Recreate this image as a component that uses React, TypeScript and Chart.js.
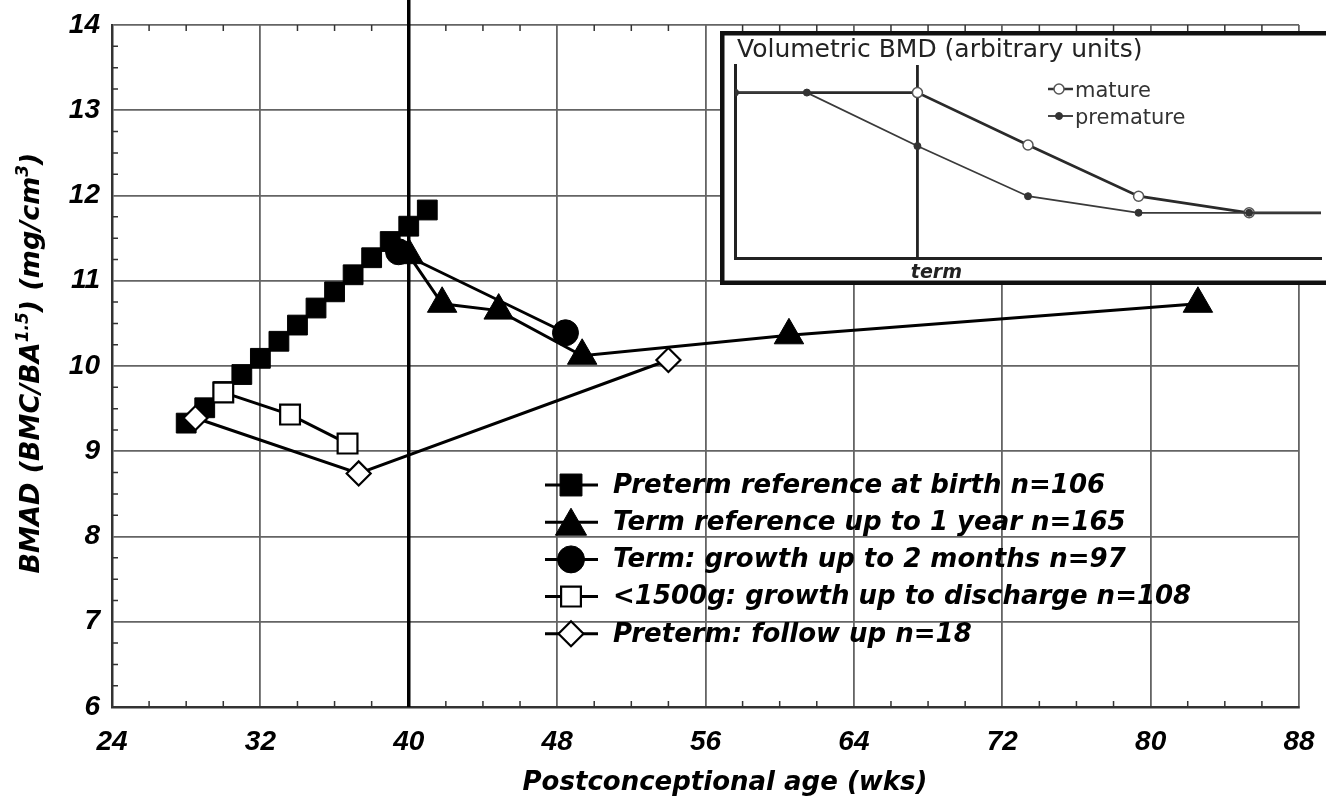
import React, { useEffect, useRef } from 'react';
import { Chart, registerables } from 'chart.js';

Chart.register(...registerables);

// ---------------- Data (main chart) ----------------
const xRange = [24, 88];
const xStep = 8;
const yRange = [6, 14];
const yStep = 1;

const seriesLabels = [
  'Preterm reference at birth n=106',
  'Term reference up to 1 year n=165',
  'Term: growth up to 2 months n=97',
  '<1500g: growth up to discharge n=108',
  'Preterm: follow up n=18',
];

const pretermRefWeeks = [28, 29, 30, 31, 32, 33, 34, 35, 36, 37, 38, 39, 40, 41];
const pretermRefBmad = [9.33, 9.51, 9.7, 9.9, 10.09, 10.29, 10.48, 10.68, 10.87, 11.07, 11.27, 11.46, 11.64, 11.83];

const termRefWeeks = [40, 41.8, 44.85, 49.35, 60.5, 82.55];
const termRefBmad = [11.3, 10.73, 10.65, 10.12, 10.36, 10.73];

const termGrowthWeeks = [39.45, 48.45];
const termGrowthBmad = [11.34, 10.39];

const vlbwWeeks = [30.0, 33.6, 36.7];
const vlbwBmad = [9.69, 9.43, 9.09];

const followUpWeeks = [28.5, 37.3, 54.0];
const followUpBmad = [9.39, 8.74, 10.07];

const termWeek = 40;

const xTitle = 'Postconceptional age (wks)';
const yTitleParts = [
  { t: 'BMAD (BMC/BA', sup: false },
  { t: '1.5', sup: true },
  { t: ') (mg/cm', sup: false },
  { t: '3', sup: true },
  { t: ')', sup: false },
];

// ---------------- Data (inset) ----------------
const insetTitle = 'Volumetric BMD (arbitrary units)';
const insetLabels = ['mature', 'premature'];
const insetMatureX = [0, 1.65, 2.65, 3.65, 4.65, 5.3];
const insetMatureY = [3.0, 3.0, 2.05, 1.12, 0.82, 0.82];
const insetPrematureX = [0, 0.65, 1.65, 2.65, 3.65, 4.65, 5.3];
const insetPrematureY = [3.0, 3.0, 2.03, 1.12, 0.82, 0.82, 0.82];
const insetTermX = 1.65;
const insetTermLabel = 'term';
const insetXRange = [0, 5.3];
const insetYRange = [0, 3.5];

// ---------------- Styles ----------------
const seriesStyles = [
  { pointStyle: 'rect', radius: 14, fill: '#000', lw: 1, legendRadius: 15.5 },
  { pointStyle: 'triangle', radius: 17, fill: '#000', lw: 1, legendRadius: 18 },
  { pointStyle: 'circle', radius: 13, fill: '#000', lw: 1, legendRadius: 13.5 },
  { pointStyle: 'rect', radius: 14, fill: '#fff', lw: 2.2, legendRadius: 14 },
  { pointStyle: 'rectRot', radius: 12, fill: '#fff', lw: 2.2, legendRadius: 12.5 },
];

const toXY = (xs: number[], ys: number[]) => xs.map((x, i) => ({ x, y: ys[i] }));

function drawMarker(
  ctx: CanvasRenderingContext2D,
  style: string,
  x: number,
  y: number,
  r: number,
  fill: string,
  stroke: string,
  lw: number
) {
  ctx.save();
  ctx.beginPath();
  if (style === 'rect') {
    const s = r * Math.SQRT1_2;
    ctx.rect(x - s, y - s, 2 * s, 2 * s);
  } else if (style === 'circle') {
    ctx.arc(x, y, r, 0, Math.PI * 2);
  } else if (style === 'triangle') {
    for (let k = 0; k < 3; k++) {
      const a = (k * 2 * Math.PI) / 3;
      const px = x + Math.sin(a) * r;
      const py = y - Math.cos(a) * r;
      if (k === 0) ctx.moveTo(px, py);
      else ctx.lineTo(px, py);
    }
  } else if (style === 'rectRot') {
    ctx.moveTo(x, y - r);
    ctx.lineTo(x + r, y);
    ctx.lineTo(x, y + r);
    ctx.lineTo(x - r, y);
  }
  ctx.closePath();
  ctx.fillStyle = fill;
  ctx.fill();
  ctx.lineWidth = lw;
  ctx.strokeStyle = stroke;
  ctx.stroke();
  ctx.restore();
}

const TITLE_FONT = '"DejaVu Sans", "Liberation Sans", sans-serif';

const mainOverlay = {
  id: 'mainOverlay',
  beforeDatasetsDraw(chart: any) {
    const ctx: CanvasRenderingContext2D = chart.ctx;
    const { left, top, bottom } = chart.chartArea;
    const xs = chart.scales.x;
    const ys = chart.scales.y;
    ctx.save();
    ctx.strokeStyle = '#333';
    ctx.lineWidth = 1.5;
    ctx.beginPath();
    for (let v = xRange[0]; v <= xRange[1]; v += 2) {
      if ((v - xRange[0]) % xStep === 0) continue;
      const px = xs.getPixelForValue(v);
      ctx.moveTo(px, bottom);
      ctx.lineTo(px, bottom - 6);
      ctx.moveTo(px, top);
      ctx.lineTo(px, top + 6);
    }
    for (let v = yRange[0]; v <= yRange[1]; v += 0.25) {
      if (Math.abs(v - Math.round(v)) < 1e-6) continue;
      const py = ys.getPixelForValue(v);
      ctx.moveTo(left, py);
      ctx.lineTo(left + 6, py);
    }
    ctx.stroke();
    ctx.restore();
  },
  afterDraw(chart: any) {
    const ctx: CanvasRenderingContext2D = chart.ctx;
    const { top, bottom } = chart.chartArea;
    ctx.save();
    ctx.fillStyle = '#000';

    // Y title with superscripts
    const bigFont = `italic bold 26px ${TITLE_FONT}`;
    const yFont = `italic bold 27px ${TITLE_FONT}`;
    const supFont = `italic bold 17px ${TITLE_FONT}`;
    let total = 0;
    for (const p of yTitleParts) {
      ctx.font = p.sup ? supFont : yFont;
      total += ctx.measureText(p.t).width;
    }
    ctx.translate(30, (top + bottom) / 2 - 3);
    ctx.rotate(-Math.PI / 2);
    ctx.textBaseline = 'alphabetic';
    ctx.textAlign = 'left';
    let cx = -total / 2;
    for (const p of yTitleParts) {
      ctx.font = p.sup ? supFont : yFont;
      ctx.fillText(p.t, cx, p.sup ? 9 - 11 : 9);
      cx += ctx.measureText(p.t).width;
    }
    ctx.setTransform(1, 0, 0, 1, 0, 0);

    // X title
    ctx.font = bigFont;
    ctx.textAlign = 'center';
    ctx.textBaseline = 'alphabetic';
    ctx.fillText(xTitle, 725, 790);

    // Legend
    const rowY0 = 485;
    const rowGap = 37.2;
    seriesLabels.forEach((label, i) => {
      const y = rowY0 + i * rowGap;
      const st = seriesStyles[i];
      ctx.beginPath();
      ctx.strokeStyle = '#000';
      ctx.lineWidth = 3;
      ctx.moveTo(545, y);
      ctx.lineTo(598, y);
      ctx.stroke();
      const my = st.pointStyle === 'triangle' ? y + 4 : y;
      drawMarker(ctx, st.pointStyle, 571, my, st.legendRadius, st.fill, '#000', st.lw);
      ctx.fillStyle = '#000';
      ctx.font = bigFont;
      ctx.textAlign = 'left';
      ctx.textBaseline = 'middle';
      ctx.fillText(label, 613, y + 1);
    });
    ctx.restore();
  },
};

const insetOverlay = {
  id: 'insetOverlay',
  beforeDraw(chart: any) {
    const ctx: CanvasRenderingContext2D = chart.ctx;
    ctx.save();
    ctx.fillStyle = '#fff';
    ctx.fillRect(0, 0, chart.width, chart.height);
    ctx.restore();
  },
  afterDraw(chart: any) {
    const ctx: CanvasRenderingContext2D = chart.ctx;
    const xs = chart.scales.x;
    ctx.save();
    // frame
    ctx.strokeStyle = '#111';
    ctx.lineWidth = 4.5;
    ctx.strokeRect(2.25, 2.25, chart.width + 20, chart.height - 4.5);
    // title
    ctx.fillStyle = '#222';
    ctx.font = `25px ${TITLE_FONT}`;
    ctx.textAlign = 'left';
    ctx.textBaseline = 'alphabetic';
    ctx.fillText(insetTitle, 17, 26);
    // term label
    ctx.font = `italic bold 19px ${TITLE_FONT}`;
    ctx.textAlign = 'center';
    ctx.fillText(insetTermLabel, xs.getPixelForValue(insetTermX) + 19, 247);
    // legend
    insetLabels.forEach((label, i) => {
      const y = 58 + i * 27;
      ctx.beginPath();
      ctx.strokeStyle = '#333';
      ctx.lineWidth = i === 0 ? 2.5 : 1.8;
      ctx.moveTo(328, y);
      ctx.lineTo(353, y);
      ctx.stroke();
      if (i === 0) drawMarker(ctx, 'circle', 339, y, 5, '#fff', '#555', 1.5);
      else drawMarker(ctx, 'circle', 339, y, 3.5, '#333', '#333', 1);
      ctx.fillStyle = '#333';
      ctx.font = `21px ${TITLE_FONT}`;
      ctx.textAlign = 'left';
      ctx.textBaseline = 'alphabetic';
      ctx.fillText(label, 355, y + 8);
    });
    ctx.restore();
  },
};

export default function App() {
  const mainRef = useRef<HTMLCanvasElement>(null);
  const insetRef = useRef<HTMLCanvasElement>(null);

  useEffect(() => {
    const tickFont = { family: '"Liberation Sans", Arial, sans-serif', size: 28, weight: 'bold' as const, style: 'italic' as const };
    const seriesData = [
      toXY(pretermRefWeeks, pretermRefBmad),
      toXY(termRefWeeks, termRefBmad),
      toXY(termGrowthWeeks, termGrowthBmad),
      toXY(vlbwWeeks, vlbwBmad),
      toXY(followUpWeeks, followUpBmad),
    ];
    const drawOrder = [4, 3, 2, 1, 0];
    const datasets: any[] = seriesData.map((data, i) => ({
      label: seriesLabels[i],
      data,
      showLine: true,
      borderColor: '#000',
      borderWidth: 3,
      pointStyle: seriesStyles[i].pointStyle,
      pointRadius: seriesStyles[i].radius,
      pointBackgroundColor: seriesStyles[i].fill,
      pointBorderColor: '#000',
      pointBorderWidth: seriesStyles[i].lw,
      order: drawOrder[i],
    }));
    datasets.push({
      label: 'term',
      data: toXY([termWeek, termWeek], [yRange[0], yRange[1] + 0.5]),
      showLine: true,
      borderColor: '#000',
      borderWidth: 3.5,
      pointRadius: 0,
      clip: false,
      order: 10,
    });

    const main = new Chart(mainRef.current!, {
      type: 'scatter',
      data: { datasets },
      options: {
        animation: false,
        responsive: false,
        maintainAspectRatio: false,
        layout: { padding: { left: 0, right: 27, top: 25, bottom: 0 } },
        plugins: { legend: { display: false }, tooltip: { enabled: false } },
        scales: {
          x: {
            type: 'linear',
            min: xRange[0],
            max: xRange[1],
            ticks: { stepSize: xStep, font: tickFont, color: '#000', padding: 18 },
            grid: { color: '#646464', lineWidth: 1.8, drawTicks: false },
            border: { color: '#333', width: 2.5 },
            afterFit: (s: any) => {
              s.height = 98;
              s.paddingLeft = 0;
              s.paddingRight = 0;
            },
          },
          y: {
            type: 'linear',
            min: yRange[0],
            max: yRange[1],
            ticks: { stepSize: yStep, font: tickFont, color: '#000', padding: 12 },
            grid: { color: '#646464', lineWidth: 1.8, drawTicks: false },
            border: { color: '#333', width: 2.5 },
            afterFit: (s: any) => {
              s.width = 112;
              s.paddingTop = 0;
              s.paddingBottom = 0;
            },
          },
        },
      },
      plugins: [mainOverlay],
    } as any);

    const inset = new Chart(insetRef.current!, {
      type: 'scatter',
      data: {
        datasets: [
          {
            label: insetLabels[0],
            data: toXY(insetMatureX, insetMatureY),
            showLine: true,
            borderColor: '#2a2a2a',
            borderWidth: 2.8,
            pointStyle: 'circle',
            pointRadius: insetMatureX.map((_, i) => (i === 0 || i === insetMatureX.length - 1 ? 0 : 5)),
            pointBackgroundColor: '#fff',
            pointBorderColor: '#555',
            pointBorderWidth: 1.5,
            order: 1,
          },
          {
            label: insetLabels[1],
            data: toXY(insetPrematureX, insetPrematureY),
            showLine: true,
            borderColor: '#3a3a3a',
            borderWidth: 1.8,
            pointStyle: 'circle',
            pointRadius: insetPrematureX.map((_, i) => (i === insetPrematureX.length - 1 ? 0 : 3.5)),
            pointBackgroundColor: '#333',
            pointBorderColor: '#333',
            pointBorderWidth: 1,
            order: 0,
          },
          {
            label: insetTermLabel,
            data: toXY([insetTermX, insetTermX], [insetYRange[0], insetYRange[1]]),
            showLine: true,
            borderColor: '#222',
            borderWidth: 2.8,
            pointRadius: 0,
            order: 2,
          },
        ],
      },
      options: {
        animation: false,
        responsive: false,
        maintainAspectRatio: false,
        layout: { padding: { left: 15, right: 0, top: 34, bottom: 27 } },
        plugins: { legend: { display: false }, tooltip: { enabled: false } },
        scales: {
          x: {
            type: 'linear',
            min: insetXRange[0],
            max: insetXRange[1],
            ticks: { display: false },
            grid: { display: false, drawTicks: false },
            border: { display: true, color: '#222', width: 3 },
            afterFit: (s: any) => {
              s.height = 0;
            },
          },
          y: {
            type: 'linear',
            min: insetYRange[0],
            max: insetYRange[1],
            ticks: { display: false },
            grid: { display: false, drawTicks: false },
            border: { display: true, color: '#222', width: 3 },
            afterFit: (s: any) => {
              s.width = 0;
            },
          },
        },
      },
      plugins: [insetOverlay],
    } as any);

    return () => {
      main.destroy();
      inset.destroy();
    };
  }, []);

  return (
    <div style={{ position: 'absolute', left: 0, top: 0, width: 1326, height: 805, background: '#fff', overflow: 'hidden' }}>
      <canvas
        ref={mainRef}
        width={1326}
        height={805}
        style={{ position: 'absolute', left: 0, top: 0, width: 1326, height: 805 }}
      />
      <canvas
        ref={insetRef}
        width={606}
        height={254}
        style={{ position: 'absolute', left: 720, top: 31, width: 606, height: 254 }}
      />
    </div>
  );
}
